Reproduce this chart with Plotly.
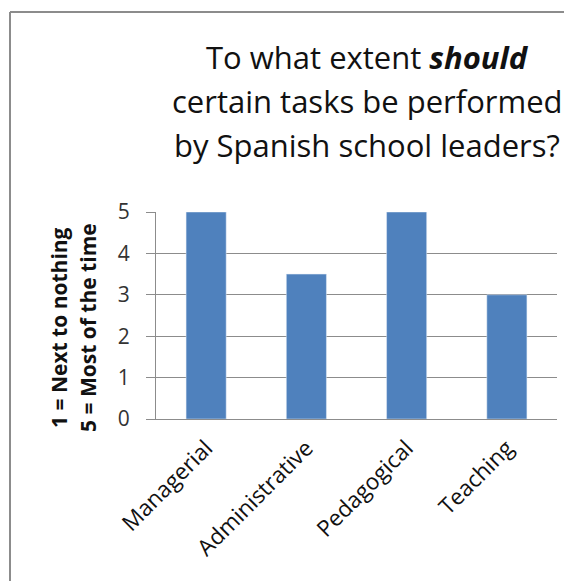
import plotly.graph_objects as go

categories = ["Managerial", "Administrative", "Pedagogical", "Teaching"]
values = [5, 3.5, 5, 3]
y_ticks = [0, 1, 2, 3, 4, 5]

# page body has an 8px margin, so work in page coords shifted by -8
OFF = 8
W, H = 572 - OFF, 581 - OFF
L, R, T, B = 156 - OFF, 572 - 557, 212 - OFF, 581 - 419
pw = W - L - R
ph = H - T - B

def px(x):
    return (x - OFF - L) / pw

def py(y):
    return (H - B - (y - OFF)) / ph

FONT = "Open Sans"

fig = go.Figure(go.Bar(x=categories, y=values, marker=dict(color="#4F81BD"), width=0.4))

fig.update_layout(
    width=W, height=H,
    margin=dict(l=L, r=R, t=T, b=B),
    paper_bgcolor="white", plot_bgcolor="white",
    showlegend=False,
    font=dict(family=FONT, color="#000"),
    xaxis=dict(showgrid=False, showline=True, linecolor="#8c8c8c", linewidth=1,
               tickangle=-45, tickfont=dict(size=22.5, color="#111"), ticks="",
               ticklabelstandoff=6, range=[-0.5, 3.5]),
    yaxis=dict(range=[0, 5], tickvals=y_ticks, showgrid=True, gridcolor="#8c8c8c",
               gridwidth=1, showline=True, linecolor="#8c8c8c", linewidth=1,
               ticks="outside", ticklen=9, tickcolor="#8c8c8c",
               ticklabelstandoff=12,
               tickfont=dict(size=21, color="#333"), zeroline=False),
)

title_lines = ["To what extent <b><i>should</i></b>", "certain tasks be performed",
               "by Spanish school leaders?"]
for i, t in enumerate(title_lines):
    fig.add_annotation(text=t, xref="paper", yref="paper", x=px(367), y=py(57 + 44 * i),
                       xanchor="center", yanchor="middle", showarrow=False,
                       font=dict(size=31, color="#111", family=FONT))

ytitles = ["1 = Next to nothing", "5 = Most of the time"]
for i, t in enumerate(ytitles):
    fig.add_annotation(text="<b>" + t + "</b>", xref="paper", yref="paper",
                       x=px(59 + 29 * i), y=py(328), textangle=-90,
                       xanchor="center", yanchor="middle", showarrow=False,
                       font=dict(size=21, color="#111", family=FONT))

fig.add_shape(type="line", xref="paper", yref="paper", x0=px(10), x1=px(590),
              y0=py(12), y1=py(12), line=dict(color="#8c8c8c", width=2))
fig.add_shape(type="line", xref="paper", yref="paper", x0=px(10), x1=px(10),
              y0=py(12), y1=py(600), line=dict(color="#8c8c8c", width=2))

fig.write_html("out.html")
